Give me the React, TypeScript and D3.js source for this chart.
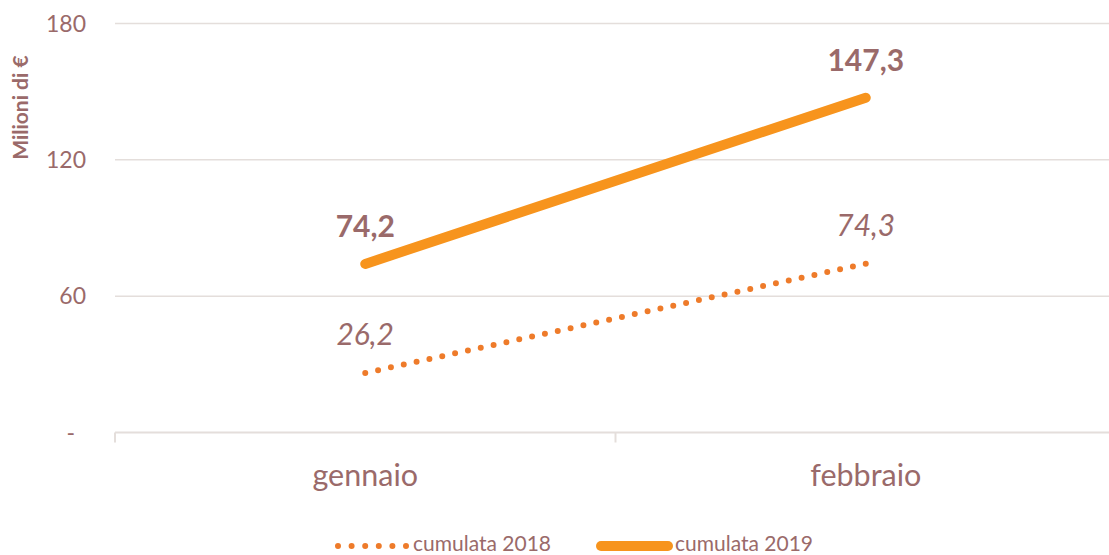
import React from "react";
import * as d3 from "d3";

const categories = ["gennaio", "febbraio"];
const series2018 = [26.2, 74.3];
const series2019 = [74.2, 147.3];
const yTicks = [0, 60, 120, 180];
const yTickLabels = ["-", "60", "120", "180"];
const seriesNames = ["cumulata 2018", "cumulata 2019"];

const W = 1109, H = 555;
const textColor = "#9A6A6A";
const gridColor = "#E4DEDB";
const c2018 = "#EE7B2A";
const c2019 = "#F7941D";
const font = "Lato, 'Open Sans', sans-serif";

export default function App() {
  const x = d3.scaleBand<string>().domain(categories).range([115, 1116]);
  const y = d3.scaleLinear().domain([0, 180]).range([432.5, 23.5]);
  const cx = (c: string) => (x(c) as number) + x.bandwidth() / 2;
  const line = d3.line<number>().x((_, i) => cx(categories[i])).y((d) => y(d));

  const dx = cx(categories[1]) - cx(categories[0]);
  const dy = y(series2018[1]) - y(series2018[0]);
  const len = Math.sqrt(dx * dx + dy * dy);
  const gap = len / Math.round(len / 13);

  return (
    <svg width={W} height={H} style={{ position: "absolute", left: 0, top: 0, background: "#fff" }}>
      {yTicks.map((t, i) => (
        <g key={t}>
          <line x1={115} x2={W} y1={y(t)} y2={y(t)} stroke={gridColor} strokeWidth={t === 0 ? 2 : 1.5} />
          <text x={t === 0 ? 75 : 86} y={y(t)} dy="0.35em" textAnchor="end" fontFamily={font} fontSize={23} fill={textColor}>
            {yTickLabels[i]}
          </text>
        </g>
      ))}
      {[115, (x(categories[1]) as number)].map((px, i) => (
        <line key={i} x1={px} x2={px} y1={y(0)} y2={y(0) + 10} stroke={gridColor} strokeWidth={2} />
      ))}
      <text transform={`translate(28,${y(143)}) rotate(-90)`} textAnchor="middle" fontFamily={font} fontWeight="bold" fontSize={21} fill={textColor}>
        Milioni di €
      </text>
      {categories.map((c) => (
        <text key={c} x={cx(c)} y={475} dy="0.35em" textAnchor="middle" fontFamily={font} fontSize={30.5} fill={textColor}>
          {c}
        </text>
      ))}
      <path d={line(series2018) || ""} fill="none" stroke={c2018} strokeWidth={6} strokeLinecap="round" strokeDasharray={`0 ${gap}`} />
      <path d={line(series2019) || ""} fill="none" stroke={c2019} strokeWidth={10} strokeLinecap="round" />
      {series2018.map((v, i) => (
        <text key={i} x={cx(categories[i])} y={y(v) - 38} dy="0.35em" textAnchor="middle" fontFamily={font} fontStyle="italic" fontSize={30} fill={textColor}>
          {v.toFixed(1).replace(".", ",")}
        </text>
      ))}
      {series2019.map((v, i) => (
        <text key={i} x={cx(categories[i])} y={y(v) - 37} dy="0.35em" textAnchor="middle" fontFamily={font} fontWeight="bold" fontSize={30} fill={textColor}>
          {v.toFixed(1).replace(".", ",")}
        </text>
      ))}
      <g>
        <line x1={338} x2={406.5} y1={546} y2={546} stroke={c2018} strokeWidth={6} strokeLinecap="round" strokeDasharray="0 13.6" />
        <text x={413} y={543.5} dy="0.35em" fontFamily={font} fontSize={21} fill={textColor}>{seriesNames[0]}</text>
        <line x1={601} x2={668} y1={546} y2={546} stroke={c2019} strokeWidth={10} strokeLinecap="round" />
        <text x={675} y={543.5} dy="0.35em" fontFamily={font} fontSize={21} fill={textColor}>{seriesNames[1]}</text>
      </g>
    </svg>
  );
}
